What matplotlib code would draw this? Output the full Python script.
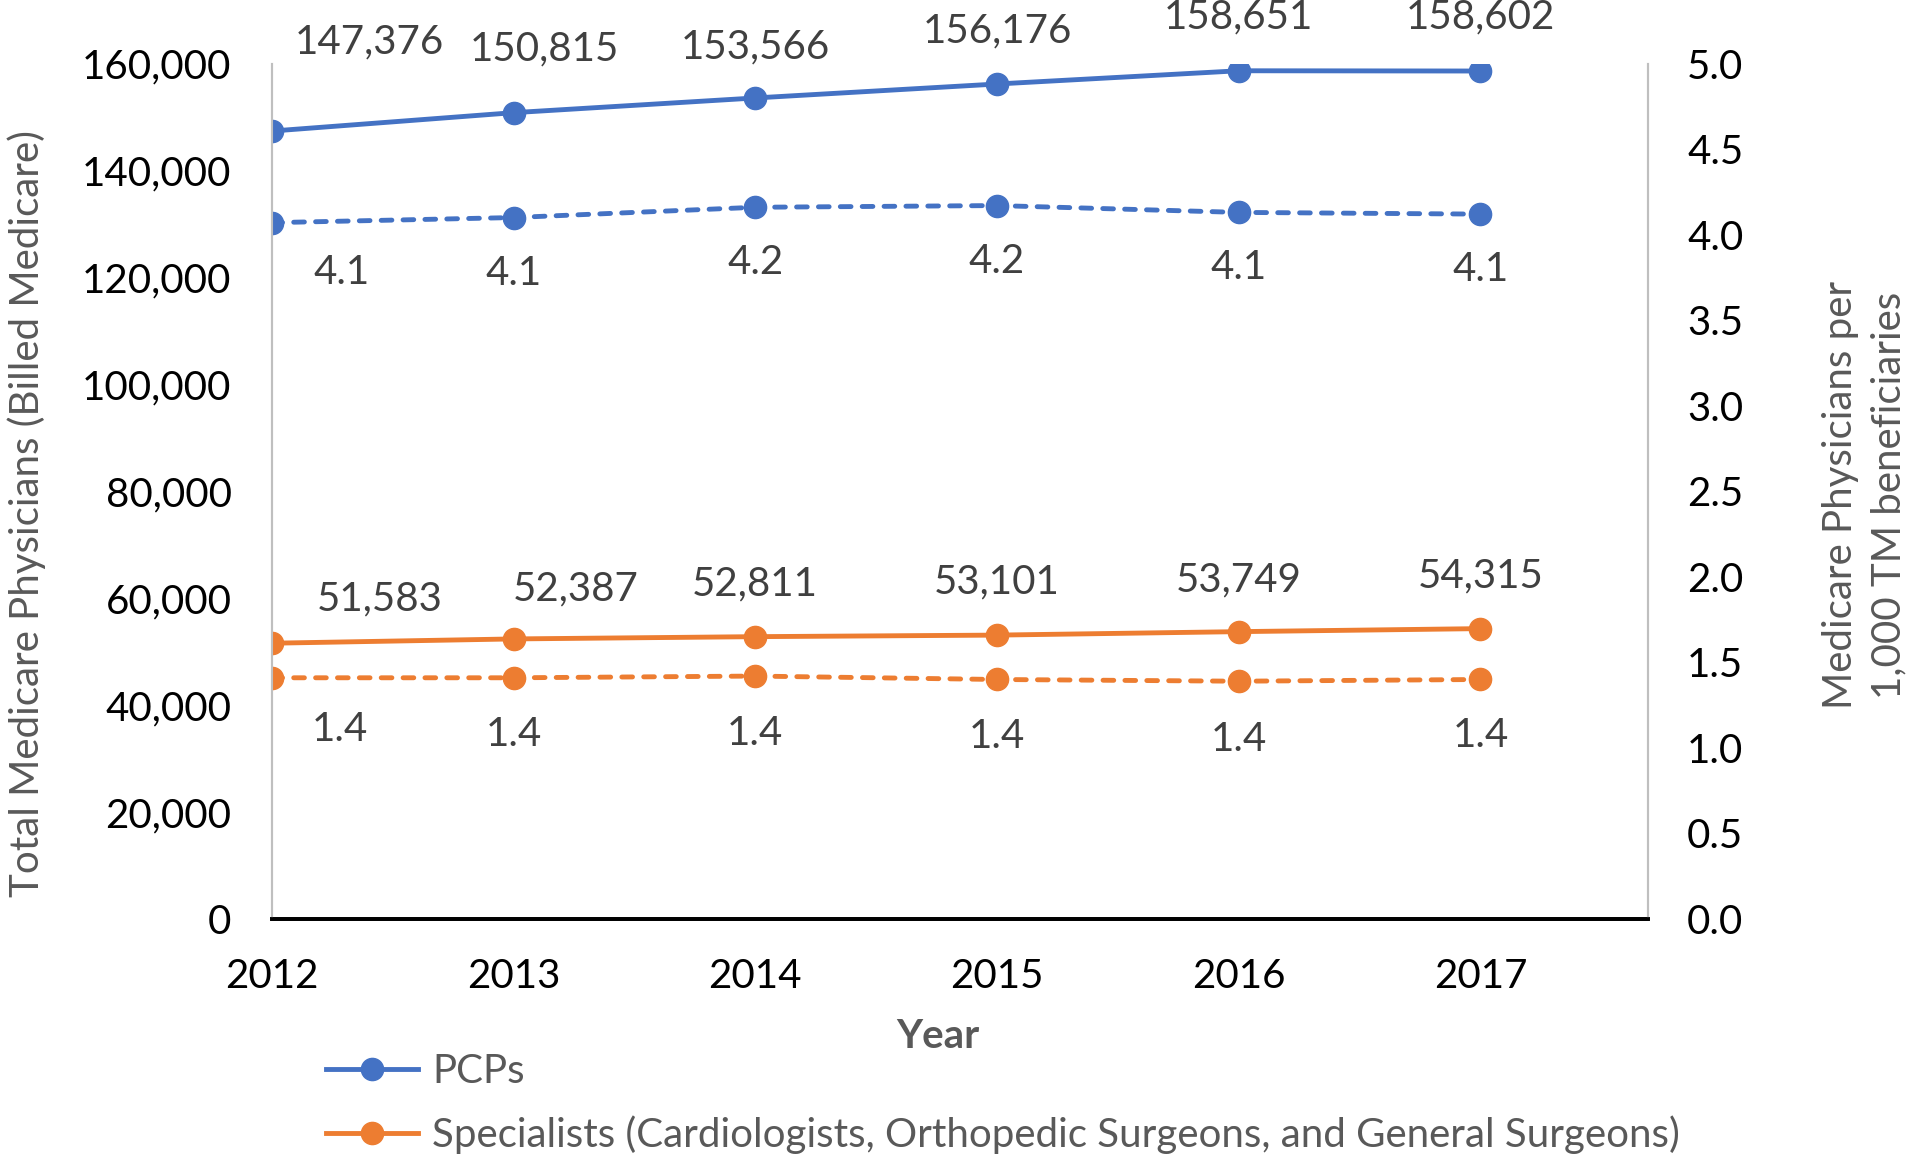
import matplotlib.pyplot as plt
from matplotlib.lines import Line2D

years = [2012, 2013, 2014, 2015, 2016, 2017]
pcp_total = [147376, 150815, 153566, 156176, 158651, 158602]
spec_total = [51583, 52387, 52811, 53101, 53749, 54315]
pcp_rate = [4.07, 4.10, 4.16, 4.17, 4.13, 4.12]
spec_rate = [1.41, 1.41, 1.42, 1.40, 1.39, 1.40]
pcp_rate_labels = ['4.1', '4.1', '4.2', '4.2', '4.1', '4.1']
spec_rate_labels = ['1.4', '1.4', '1.4', '1.4', '1.4', '1.4']

blue = '#4472C4'
orange = '#ED7D31'
label_gray = '#404040'
title_gray = '#595959'
FONT = 'Lato'

plt.rcParams['font.family'] = [FONT, 'DejaVu Sans']

fig = plt.figure(figsize=(19.2, 11.61), dpi=100)
W, H = 1568.0, 950.0  # layout measured on a 1568x950 view
ax = fig.add_axes([222 / W, 1 - 752 / H, (1346 - 222) / W, (752 - 52) / H])
ax2 = ax.twinx()

lw = 3.5
ms = 16
dash = (0, (2.2, 2.3))
ax.plot(years, pcp_total, color=blue, lw=lw, marker='o', ms=ms, zorder=3)
ax.plot(years, spec_total, color=orange, lw=lw, marker='o', ms=ms, zorder=3)
ax2.plot(years, pcp_rate, color=blue, lw=lw, ls=dash, dash_capstyle='round',
         marker='o', ms=ms)
ax2.plot(years, spec_rate, color=orange, lw=lw, ls=dash, dash_capstyle='round',
         marker='o', ms=ms)

ax.set_xlim(2012, 2012 + 1124 / 197.4)
ax.set_ylim(0, 160000)
ax2.set_ylim(0, 5.0)
ax.set_xticks(years)
ax.set_xticklabels([str(y) for y in years])
ax.set_yticks(range(0, 160001, 20000))
ax.set_yticklabels([f'{v:,}' for v in range(0, 160001, 20000)])
ax2.set_yticks([i * 0.5 for i in range(11)])
ax2.set_yticklabels([f'{i * 0.5:.1f}' for i in range(11)])

fs = 29
for a in (ax, ax2):
    a.tick_params(length=0, labelsize=fs, labelcolor='black')
    a.spines['top'].set_visible(False)
    a.spines['left'].set_color('#BFBFBF')
    a.spines['right'].set_color('#BFBFBF')
    a.spines['left'].set_linewidth(1.5)
    a.spines['right'].set_linewidth(1.5)
    a.spines['bottom'].set_color('black')
    a.spines['bottom'].set_linewidth(2.7)
ax.tick_params(axis='y', pad=29)
ax2.tick_params(axis='y', pad=28)
ax.tick_params(axis='x', pad=28)
ax.patch.set_visible(False)

# data labels (offsets in points)
pcp_off = [(70, 64), (22, 46), (0, 37), (0, 38), (0, 39), (0, 39)]
spec_off = [(78, 32), (45, 36), (0, 38), (0, 38), (0, 37), (0, 38)]
pcp_rate_off = [(50, -36), (0, -40), (0, -40), (0, -40), (0, -40), (0, -40)]
spec_rate_off = [(49, -37), (0, -41), (0, -41), (0, -41), (0, -42), (0, -40)]

for x, v, o in zip(years, pcp_total, pcp_off):
    ax.annotate(f'{v:,}', (x, v), xytext=o, textcoords='offset points',
                ha='center', va='center', fontsize=fs, color=label_gray)
for x, v, o in zip(years, spec_total, spec_off):
    ax.annotate(f'{v:,}', (x, v), xytext=o, textcoords='offset points',
                ha='center', va='center', fontsize=fs, color=label_gray)
for x, v, t, o in zip(years, pcp_rate, pcp_rate_labels, pcp_rate_off):
    ax2.annotate(t, (x, v), xytext=o, textcoords='offset points',
                 ha='center', va='center', fontsize=fs, color=label_gray)
for x, v, t, o in zip(years, spec_rate, spec_rate_labels, spec_rate_off):
    ax2.annotate(t, (x, v), xytext=o, textcoords='offset points',
                 ha='center', va='center', fontsize=fs, color=label_gray)

# axis titles
fig.text(22 / W, 1 - 420 / H, 'Total Medicare Physicians (Billed Medicare)',
         rotation=90, ha='center', va='center', fontsize=fs, color=title_gray)
fig.text(1523 / W, 1 - 405 / H, 'Medicare Physicians per\n1,000 TM beneficiaries',
         rotation=90, ha='center', va='center', fontsize=fs, color=title_gray,
         linespacing=1.38)
fig.text(766 / W, 1 - 848 / H, 'Year', ha='center', va='center',
         fontsize=fs, fontweight='bold', color=title_gray)

handles = [Line2D([], [], color=blue, lw=lw, marker='o', ms=ms),
           Line2D([], [], color=orange, lw=lw, marker='o', ms=ms)]
labels = ['PCPs',
          'Specialists (Cardiologists, Orthopedic Surgeons, and General Surgeons)']
fig.legend(handles, labels, loc='center left', bbox_to_anchor=(266 / W, 1 - 903 / H),
           frameon=False, fontsize=fs, labelcolor=title_gray, handlelength=2.3,
           handletextpad=0.35, labelspacing=0.62, borderaxespad=0, borderpad=0)

fig.savefig('out.png', dpi=100)
